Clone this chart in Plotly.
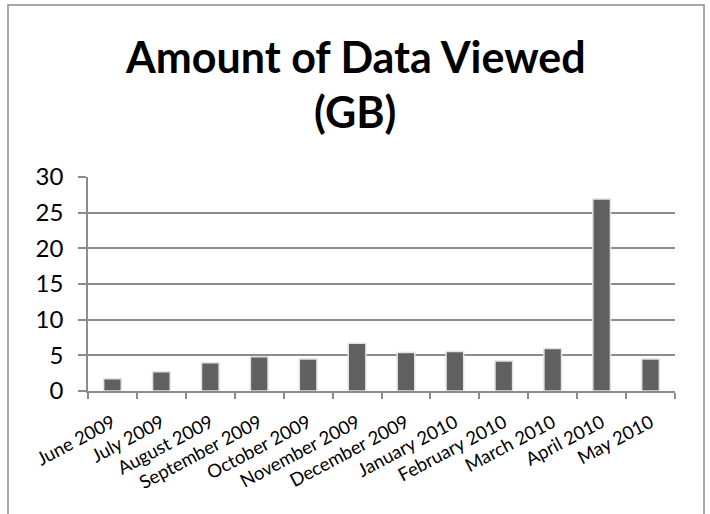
import plotly.graph_objects as go

months = ["June 2009", "July 2009", "August 2009", "September 2009", "October 2009",
          "November 2009", "December 2009", "January 2010", "February 2010",
          "March 2010", "April 2010", "May 2010"]
data_gb = [1.7, 2.7, 3.95, 4.8, 4.5, 6.7, 5.4, 5.55, 4.2, 5.95, 26.9, 4.5]
y_ticks = [0, 5, 10, 15, 20, 25, 30]

title_lines = ["Amount of Data Viewed", "(GB)"]

# plot area in pixels
L, R, T, B = 88, 675, 177, 391
W, H = R - L, B - T


def px_x(p):
    return (p - L) / W


def px_y(p):
    return (B - p) / H


fig = go.Figure()
fig.add_trace(go.Bar(
    x=months, y=data_gb,
    marker=dict(color="#606060", line=dict(color="#e3e3e3", width=1.5)),
    width=0.36,
))

annotations = [
    dict(text=title_lines[0], xref="paper", yref="paper", x=px_x(355), y=px_y(57),
         xanchor="center", yanchor="middle", showarrow=False,
         font=dict(size=43, family="Lato, sans-serif", color="black", weight="bold")),
    dict(text=title_lines[1], xref="paper", yref="paper", x=px_x(355), y=px_y(112),
         xanchor="center", yanchor="middle", showarrow=False,
         font=dict(size=43, family="Lato, sans-serif", color="black", weight="bold")),
]

fig.update_layout(
    width=710, height=514,
    margin=dict(l=L, r=710 - R, t=T, b=514 - B),
    paper_bgcolor="white", plot_bgcolor="white",
    showlegend=False,
    font=dict(family="Lato, sans-serif", color="black"),
    annotations=annotations,
    shapes=[dict(type="rect", xref="paper", yref="paper",
                 x0=px_x(8), x1=px_x(704), y0=px_y(600), y1=px_y(5),
                 line=dict(color="#8a8a8a", width=1.5), fillcolor="rgba(0,0,0,0)",
                 layer="below")],
)
fig.update_yaxes(range=[0, 30], tickvals=y_ticks, showgrid=True, gridcolor="#8c8c8c",
                 gridwidth=1.5, showline=True, linecolor="#8c8c8c", linewidth=1.5,
                 ticks="outside", ticklen=8, tickcolor="#8c8c8c", tickwidth=1.5,
                 ticklabelstandoff=10,
                 tickfont=dict(size=24), zeroline=False, automargin=False)
fig.update_xaxes(showline=True, linecolor="#8c8c8c", linewidth=1.5,
                 ticks="outside", tickson="boundaries", ticklen=6, tickcolor="#8c8c8c",
                 tickwidth=1.5, tickangle=-28, tickfont=dict(size=18.5), showgrid=False,
                 ticklabelstandoff=12, automargin=False)

fig.write_html("out.html", config={"displayModeBar": False},
               post_script="document.body.style.margin='0';")
